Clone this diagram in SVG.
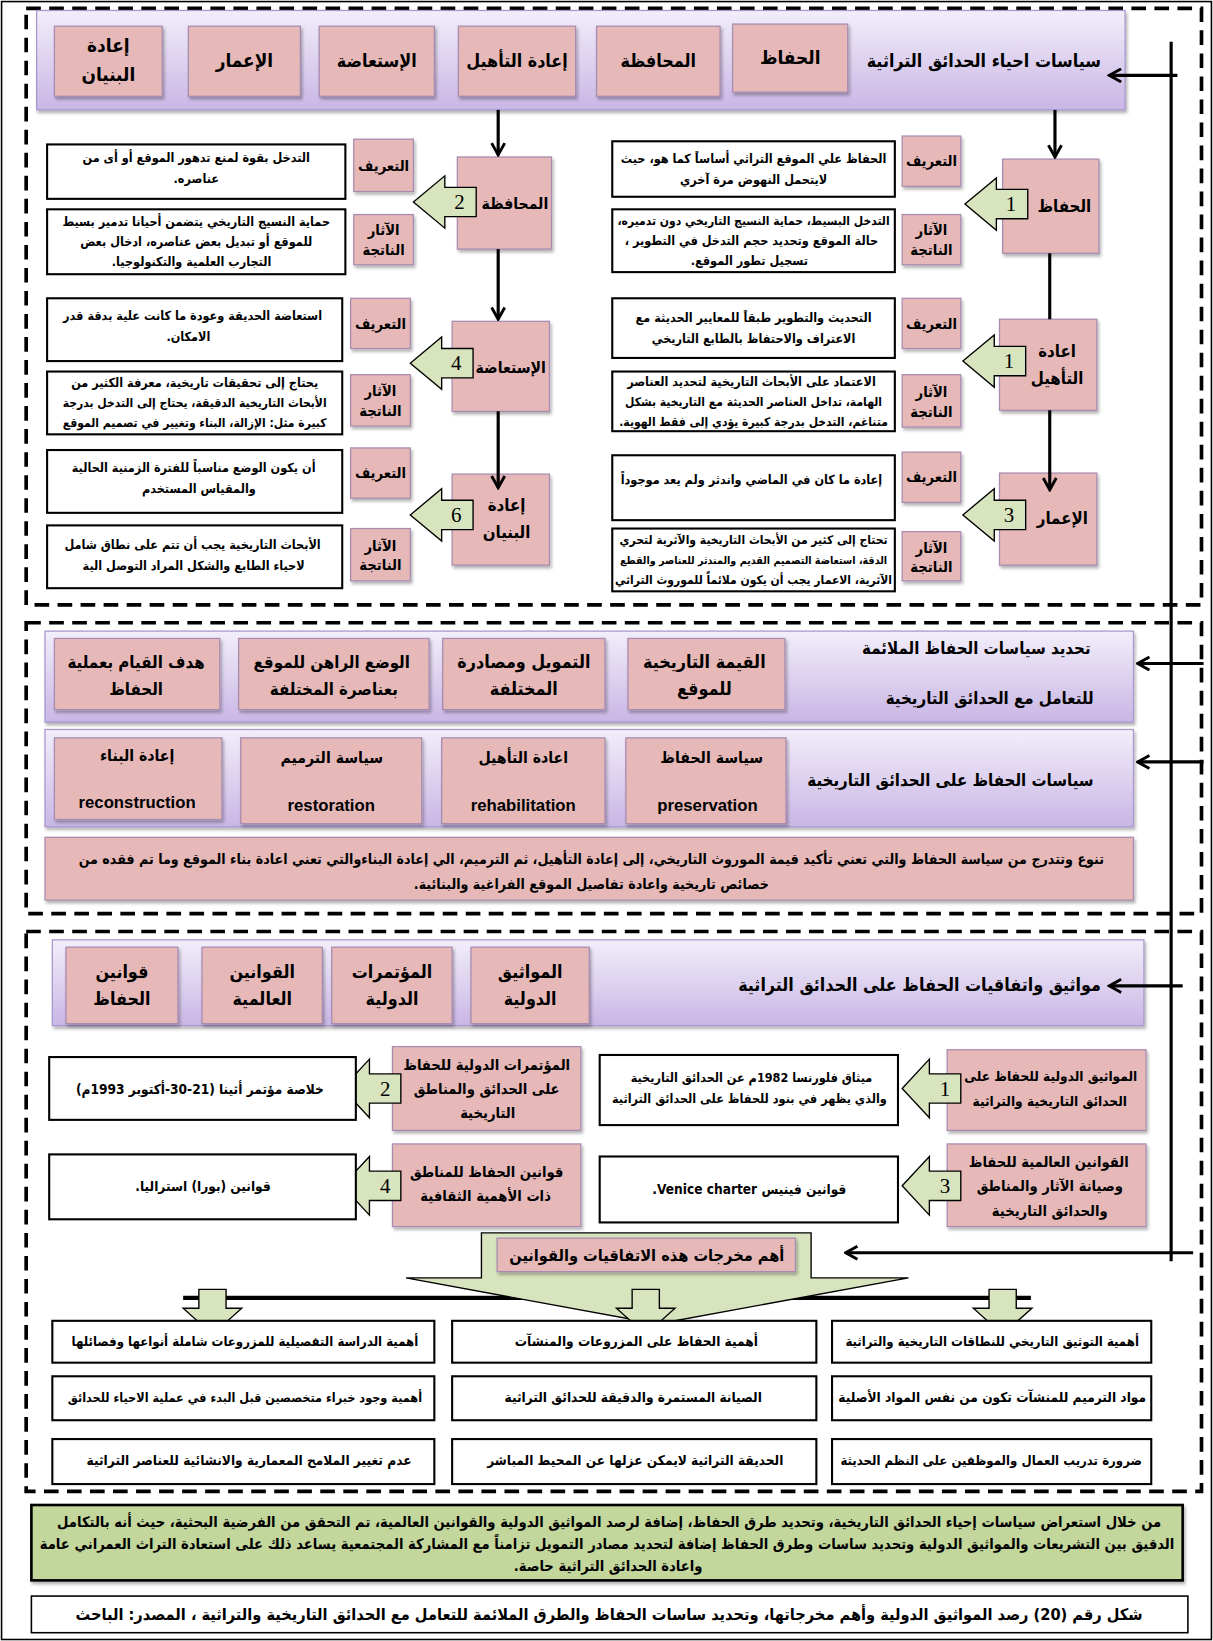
<svg xmlns="http://www.w3.org/2000/svg" width="1213" height="1641" viewBox="0 0 1213 1641">
<defs>
<linearGradient id="gp" x1="0" y1="0" x2="0" y2="1"><stop offset="0" stop-color="#f2eefa"/><stop offset="1" stop-color="#c9b6e5"/></linearGradient>
<filter id="sh" x="-5%" y="-5%" width="115%" height="125%"><feDropShadow dx="1.5" dy="2.5" stdDeviation="1.5" flood-color="#000" flood-opacity="0.3"/></filter>
<marker id="ah" viewBox="0 0 12 12" refX="10.5" refY="6" markerWidth="5" markerHeight="5" orient="auto" markerUnits="strokeWidth"><path d="M1.5,1 L10.5,6 L1.5,11" fill="none" stroke="#000" stroke-width="2.2"/></marker>
</defs>
<style>
.pur{fill:url(#gp);stroke:#a996cc;stroke-width:1.2;filter:url(#sh)}
.pk{fill:#e6b9b8;stroke:#a88bb0;stroke-width:1.2;filter:url(#sh)}
.wb{fill:#fff;stroke:#000;stroke-width:2}
.ga{fill:#d7e4bd;stroke:#000;stroke-width:1.3}
.dash{fill:none;stroke:#000;stroke-width:3.5;stroke-dasharray:14 8}
.ln{fill:none;stroke:#000;stroke-width:3}
text{font-family:"DejaVu Sans Condensed","DejaVu Sans","Noto Sans",sans-serif;font-weight:bold;fill:#000;direction:rtl;text-anchor:middle}
.s10{font-size:10.2px}
.s11{font-size:11.5px}
.s12{font-size:12px}
.s125{font-size:12.5px}
.s13{font-size:13px}
.s135{font-size:13.5px}
.s14{font-size:14px}
.s15{font-size:15px}
.s155{font-size:15.5px}
.s16{font-size:16px}
.s17{font-size:17px}
.s18{font-size:18px}
.num{font-family:"Liberation Serif",serif;font-weight:normal;font-size:20px;direction:ltr}
.en{font-family:"Liberation Sans",sans-serif;font-size:16px;direction:ltr}
.r{text-anchor:start}
</style>
<rect x="0" y="0" width="1213" height="1641" fill="#fff"/>
<g transform="scale(1.0466)">
<rect x="1.5" y="1.5" width="1156" height="1565" fill="none" stroke="#000" stroke-width="1.5"/>
<g id="sections">
<rect class="dash" x="25" y="8" width="1123" height="570"/>
<rect class="dash" x="25" y="595" width="1123" height="278"/>
<rect class="dash" x="25" y="890" width="1123" height="535"/>
</g>

<g id="header1">
<rect class="pur" x="35" y="10" width="1040" height="95"/>
<text class="s17 r" x="1052" y="64">سياسات احياء الحدائق التراثية</text>
<rect class="pk" x="52" y="25" width="103" height="67"/>
<text class="s18" x="103.5" y="50">إعادة</text><text class="s18" x="103.5" y="77">البنيان</text>
<rect class="pk" x="180" y="25" width="107" height="67"/>
<text class="s18" x="233.5" y="64">الإعمار</text>
<rect class="pk" x="305" y="25" width="110" height="67"/>
<text class="s17" x="360" y="64">الإستعاضة</text>
<rect class="pk" x="438" y="25" width="112" height="67"/>
<text class="s17" x="494" y="64">إعادة التأهيل</text>
<rect class="pk" x="570" y="25" width="118" height="67"/>
<text class="s17" x="629" y="64">المحافظة</text>
<rect class="pk" x="700" y="23" width="110" height="65"/>
<text class="s18" x="755" y="61">الحفاظ</text>
</g>

<!-- Section 1 right column -->
<g id="n-hifaz">
<rect class="pk" x="958" y="152" width="92" height="90"/>
<path class="ga" d="M922,195 L952,170 L952,181 L982,181 L982,209 L952,209 L952,220 Z"/>
<text class="num" x="966" y="202">1</text>
<text class="s16" x="1017" y="203">الحفاظ</text>
<rect class="pk" x="862" y="130" width="56" height="48"/>
<text class="s14" x="890" y="159">التعريف</text>
<rect class="pk" x="862" y="205" width="56" height="48"/>
<text class="s14" x="890" y="225">الآثار</text><text class="s14" x="890" y="244">الناتجة</text>
<rect class="wb" x="585" y="135" width="270" height="53"/>
<text class="s12" x="720" y="156">الحفاظ علي الموقع التراثي أساساً كما هو، حيث</text>
<text class="s12" x="720" y="176">لايتحمل النهوض مرة آخري</text>
<rect class="wb" x="585" y="200" width="270" height="60"/>
<text class="s11" x="720" y="215">التدخل البسيط، حماية النسيج التاريخي دون تدميره،</text>
<text class="s12" x="718" y="234">حالة الموقع وتحديد حجم التدخل في التطوير ،</text>
<text class="s12" x="716" y="253">تسجيل تطور الموقع.</text>
</g>

<g id="n-taahil">
<rect class="pk" x="955" y="305" width="93" height="87"/>
<path class="ga" d="M920,345 L950,320 L950,331 L980,331 L980,359 L950,359 L950,370 Z"/>
<text class="num" x="964" y="352">1</text>
<text class="s16" x="1010" y="341">اعادة</text><text class="s16" x="1010" y="367">التأهيل</text>
<rect class="pk" x="862" y="285" width="56" height="48"/>
<text class="s14" x="890" y="314">التعريف</text>
<rect class="pk" x="862" y="358" width="56" height="50"/>
<text class="s14" x="890" y="379">الآثار</text><text class="s14" x="890" y="398">الناتجة</text>
<rect class="wb" x="585" y="285" width="270" height="57"/>
<text class="s12" x="720" y="308">التحديث والتطوير طبقاً للمعايير الحديثة مع</text>
<text class="s12" x="720" y="328">الاعتراف والاحتفاظ بالطابع التاريخي</text>
<rect class="wb" x="585" y="355" width="270" height="57"/>
<text class="s12" x="718" y="369">الاعتماد على الأبحاث التاريخية لتحديد العناصر</text>
<text class="s11" x="720" y="388">الهامة، تداخل العناصر الحديثة مع التاريخية بشكل</text>
<text class="s11" x="720" y="407">متناغم، التدخل بدرجة كبيرة يؤدي إلى فقط الهوية.</text>
</g>

<g id="n-iamar">
<rect class="pk" x="955" y="452" width="93" height="88"/>
<path class="ga" d="M920,492 L950,467 L950,478 L980,478 L980,506 L950,506 L950,517 Z"/>
<text class="num" x="964" y="499">3</text>
<text class="s16" x="1015" y="501">الإعمار</text>
<rect class="pk" x="862" y="432" width="56" height="48"/>
<text class="s14" x="890" y="461">التعريف</text>
<rect class="pk" x="862" y="508" width="56" height="47"/>
<text class="s14" x="890" y="528">الآثار</text><text class="s14" x="890" y="547">الناتجة</text>
<rect class="wb" x="585" y="435" width="270" height="62"/>
<text class="s12" x="718" y="462">إعادة ما كان في الماضي واندثر ولم يعد موجوداً</text>
<rect class="wb" x="585" y="505" width="270" height="60"/>
<text class="s11" x="720" y="520">تحتاج إلى كثير من الأبحاث التاريخية والآثرية لتحري</text>
<text class="s10" x="720" y="539">الدقة، استعاضة التصميم القديم والمندثر للعناصر والقطع</text>
<text class="s11" x="720" y="558">الآثرية، الاعمار يجب أن يكون ملائماً للموروث التراثي</text>
</g>

<!-- Section 1 left column -->
<g id="n-muhafaza">
<rect class="pk" x="437" y="150" width="90" height="88"/>
<path class="ga" d="M395,193 L425,168 L425,179 L455,179 L455,207 L425,207 L425,218 Z"/>
<text class="num" x="439" y="200">2</text>
<text class="s15" x="492" y="200">المحافظة</text>
<rect class="pk" x="338" y="133" width="57" height="50"/>
<text class="s14" x="366.5" y="163">التعريف</text>
<rect class="pk" x="338" y="205" width="57" height="48"/>
<text class="s14" x="366.5" y="225">الآثار</text><text class="s14" x="366.5" y="244">الناتجة</text>
<rect class="wb" x="45" y="138" width="285" height="52"/>
<text class="s12" x="187.5" y="155">التدخل بقوة لمنع تدهور الموقع أو أى من</text>
<text class="s12" x="187.5" y="175">عناصره.</text>
<rect class="wb" x="45" y="200" width="285" height="62"/>
<text class="s12" x="187.5" y="216">حماية النسيج التاريخي يتضمن أحيانا تدمير بسيط</text>
<text class="s12" x="187.5" y="235">للموقع أو تبديل بعض عناصره، ادخال بعض</text>
<text class="s12" x="183" y="254">التجارب العلمية والتكنولوجيا.</text>
</g>

<g id="n-istiada">
<rect class="pk" x="432" y="307" width="93" height="86"/>
<path class="ga" d="M392,347 L422,322 L422,333 L452,333 L452,361 L422,361 L422,372 Z"/>
<text class="num" x="436" y="354">4</text>
<text class="s15" x="488" y="356">الإستعاضة</text>
<rect class="pk" x="335" y="285" width="57" height="48"/>
<text class="s14" x="363.5" y="314">التعريف</text>
<rect class="pk" x="335" y="358" width="57" height="49"/>
<text class="s14" x="363.5" y="378">الآثار</text><text class="s14" x="363.5" y="397">الناتجة</text>
<rect class="wb" x="45" y="285" width="282" height="60"/>
<text class="s12" x="184" y="306">استعاضة الحديقة وعودة ما كانت علية بدقة قدر</text>
<text class="s12" x="180" y="326">الامكان.</text>
<rect class="wb" x="45" y="355" width="282" height="60"/>
<text class="s12" x="186" y="370">يحتاج إلى تحقيقات تاريخية، معرفة الكثير من</text>
<text class="s11" x="186" y="389">الأبحاث التاريخية الدقيقة، يحتاج إلى التدخل بدرجة</text>
<text class="s11" x="186" y="408">كبيرة مثل: الإزالة، البناء وتغيير في تصميم الموقع</text>
</g>

<g id="n-bunyan">
<rect class="pk" x="432" y="453" width="93" height="87"/>
<path class="ga" d="M392,492 L422,467 L422,478 L452,478 L452,506 L422,506 L422,517 Z"/>
<text class="num" x="436" y="499">6</text>
<text class="s16" x="484" y="488">إعادة</text><text class="s16" x="484" y="514">البنيان</text>
<rect class="pk" x="335" y="428" width="57" height="48"/>
<text class="s14" x="363.5" y="457">التعريف</text>
<rect class="pk" x="335" y="505" width="57" height="50"/>
<text class="s14" x="363.5" y="526">الآثار</text><text class="s14" x="363.5" y="545">الناتجة</text>
<rect class="wb" x="45" y="430" width="282" height="60"/>
<text class="s12" x="185" y="451">أن يكون الوضع مناسباً للفترة الزمنية الحالية</text>
<text class="s12" x="190" y="471">والمقياس المستخدم</text>
<rect class="wb" x="45" y="502" width="282" height="60"/>
<text class="s12" x="184" y="525">الأبحاث التاريخية يجب أن تتم على نطاق شامل</text>
<text class="s12" x="185" y="545">لاحياء الطابع والشكل المراد التوصل الية</text>
</g>

<!-- Section 2 -->
<g id="header2">
<rect class="pur" x="43" y="603" width="1040" height="87"/>
<text class="s16 r" x="1042" y="625">تحديد سياسات الحفاظ الملائمة</text>
<text class="s16 r" x="1045" y="673">للتعامل مع الحدائق التاريخية</text>
<rect class="pk" x="600" y="610" width="150" height="68"/>
<text class="s17" x="673" y="638">القيمة التاريخية</text><text class="s17" x="673" y="664">للموقع</text>
<rect class="pk" x="423" y="610" width="155" height="68"/>
<text class="s17" x="500.5" y="638">التمويل ومصادرة</text><text class="s17" x="500.5" y="664">المختلفة</text>
<rect class="pk" x="228" y="610" width="182" height="68"/>
<text class="s16" x="317" y="638">الوضع الراهن للموقع</text><text class="s16" x="319" y="664">بعناصرة المختلفة</text>
<rect class="pk" x="52" y="610" width="158" height="68"/>
<text class="s16" x="130" y="638">هدف القيام بعملية</text><text class="s16" x="130" y="664">الحفاظ</text>
</g>

<g id="header3">
<rect class="pur" x="43" y="697" width="1040" height="93"/>
<text class="s16 r" x="1045" y="751">سياسات الحفاظ على الحدائق التاريخية</text>
<rect class="pk" x="598" y="705" width="153" height="82"/>
<text class="s15" x="680" y="729">سياسة الحفاظ</text><text class="en" x="676" y="775">preservation</text>
<rect class="pk" x="422" y="705" width="156" height="82"/>
<text class="s15" x="500" y="729">اعادة التأهيل</text><text class="en" x="500" y="775">rehabilitation</text>
<rect class="pk" x="230" y="705" width="173" height="82"/>
<text class="s15" x="317" y="729">سياسة الترميم</text><text class="en" x="316.5" y="775">restoration</text>
<rect class="pk" x="52" y="705" width="160" height="78"/>
<text class="s15" x="131" y="727">إعادة البناء</text><text class="en" x="131" y="772">reconstruction</text>
</g>

<g id="summary2">
<rect class="pk" x="43" y="800" width="1040" height="60"/>
<text class="s135" x="565" y="826">تنوع وتتدرج من سياسة الحفاظ والتي تعني تأكيد قيمة الموروث التاريخي، إلى إعادة التأهيل، ثم الترميم، الي إعادة البناءوالتي تعني اعادة بناء الموقع وما تم فقده من</text>
<text class="s135" x="565" y="849">خصائص تاريخية واعادة تفاصيل الموقع الفراغية والبنائية.</text>
</g>

<!-- Section 3 -->
<g id="header4">
<rect class="pur" x="50" y="898" width="1043" height="82"/>
<text class="s17 r" x="1052" y="947">مواثيق واتفاقيات الحفاظ على الحدائق التراثية</text>
<rect class="pk" x="450" y="905" width="113" height="73"/>
<text class="s17" x="506.5" y="934">المواثيق</text><text class="s17" x="506.5" y="960">الدولية</text>
<rect class="pk" x="317" y="905" width="115" height="73"/>
<text class="s17" x="374.5" y="934">المؤتمرات</text><text class="s17" x="374.5" y="960">الدولية</text>
<rect class="pk" x="193" y="905" width="115" height="73"/>
<text class="s17" x="250.5" y="934">القوانين</text><text class="s17" x="250.5" y="960">العالمية</text>
<rect class="pk" x="63" y="905" width="107" height="73"/>
<text class="s17" x="116.5" y="934">قوانين</text><text class="s17" x="116.5" y="960">الحفاظ</text>
</g>

<g id="n-mawathiq">
<rect class="pk" x="905" y="1003" width="190" height="77"/>
<text class="s13" x="1004" y="1033">المواثيق الدولية للحفاظ على</text>
<text class="s13" x="1003" y="1057">الحدائق التاريخية والتراثية</text>
<path class="ga" d="M862,1040 L888,1012 L888,1026 L918,1026 L918,1054 L888,1054 L888,1068 Z"/>
<text class="num" x="903" y="1047">1</text>
<rect class="wb" x="573" y="1008" width="285" height="67"/>
<text class="s12" x="718" y="1034">ميثاق فلورنسا 1982م عن الحدائق التاريخية</text>
<text class="s12" x="716" y="1054">والذي يظهر في بنود للحفاظ على الحدائق التراثية</text>
</g>

<g id="n-mutamarat">
<rect class="pk" x="375" y="1000" width="180" height="80"/>
<text class="s14" x="465" y="1022">المؤتمرات الدولية للحفاظ</text>
<text class="s14" x="465" y="1045">على الحدائق والمناطق</text>
<text class="s14" x="466" y="1068">التاريخية</text>
<path class="ga" d="M327,1040 L353,1012 L353,1026 L383,1026 L383,1054 L353,1054 L353,1068 Z"/>
<text class="num" x="368" y="1047">2</text>
<rect class="wb" x="47" y="1010" width="293" height="60"/>
<text class="s13" x="191" y="1045">خلاصة مؤتمر أثينا (21-30-أكتوبر 1993م)</text>
</g>

<g id="n-qawanin">
<rect class="pk" x="905" y="1093" width="190" height="79"/>
<text class="s14" x="1002" y="1115">القوانين العالمية للحفاظ</text>
<text class="s14" x="1003" y="1138">وصيانة الآثار والمناطق</text>
<text class="s14" x="1003" y="1162">والحدائق التاريخية</text>
<path class="ga" d="M862,1133 L888,1105 L888,1119 L918,1119 L918,1147 L888,1147 L888,1161 Z"/>
<text class="num" x="903" y="1140">3</text>
<rect class="wb" x="573" y="1105" width="285" height="63"/>
<text class="s13" x="716" y="1141">قوانين فينيس Venice charter.</text>
</g>

<g id="n-thaqafiya">
<rect class="pk" x="375" y="1093" width="180" height="79"/>
<text class="s14" x="465" y="1125">قوانين الحفاظ للمناطق</text>
<text class="s14" x="464" y="1148">ذات الأهمية الثقافية</text>
<path class="ga" d="M327,1133 L353,1105 L353,1119 L383,1119 L383,1147 L353,1147 L353,1161 Z"/>
<text class="num" x="368" y="1140">4</text>
<rect class="wb" x="47" y="1103" width="293" height="62"/>
<text class="s13" x="194" y="1138">قوانين (بورا) استراليا.</text>
</g>

<g id="connectors">
<line class="ln" x1="1008" y1="105" x2="1008" y2="150" marker-end="url(#ah)"/>
<line class="ln" x1="476" y1="105" x2="476" y2="148" marker-end="url(#ah)"/>
<line class="ln" x1="1003" y1="242" x2="1003" y2="305"/>
<line class="ln" x1="1003" y1="392" x2="1003" y2="468" marker-end="url(#ah)"/>
<line class="ln" x1="476" y1="238" x2="476" y2="305" marker-end="url(#ah)"/>
<line class="ln" x1="476" y1="393" x2="476" y2="466" marker-end="url(#ah)"/>
<line class="ln" x1="1119" y1="40" x2="1119" y2="1205"/>
<line class="ln" x1="1125" y1="72" x2="1060" y2="72" marker-end="url(#ah)"/>
<line class="ln" x1="1150" y1="634" x2="1087" y2="634" marker-end="url(#ah)"/>
<line class="ln" x1="1150" y1="728" x2="1087" y2="728" marker-end="url(#ah)"/>
<line class="ln" x1="1130" y1="942" x2="1060" y2="942" marker-end="url(#ah)"/>
<line class="ln" x1="1140" y1="1197" x2="808" y2="1197" marker-end="url(#ah)"/>
<line x1="175" y1="1240" x2="985" y2="1240" stroke="#000" stroke-width="4"/>
</g>

<g id="n-outputs">
<path class="ga" d="M460,1178 L775,1178 L775,1221 L868,1221 L628,1265 L388,1221 L460,1221 Z"/>
<rect class="pk" x="475" y="1183" width="285" height="32"/>
<text class="s155" x="618" y="1205">أهم مخرجات هذه الاتفاقيات والقوانين</text>
</g>

<g id="small-arrows">
<path class="ga" d="M190,1232 L216,1232 L216,1250 L231,1250 L203,1275 L175,1250 L190,1250 Z"/>
<path class="ga" d="M604,1232 L630,1232 L630,1250 L645,1250 L617,1275 L589,1250 L604,1250 Z"/>
<path class="ga" d="M945,1232 L971,1232 L971,1250 L986,1250 L958,1275 L930,1250 L945,1250 Z"/>
</g>

<g id="out-r1">
<rect class="wb" x="795" y="1262" width="305" height="40"/>
<text class="s125" x="948" y="1286">أهمية التوثيق التاريخي للنطاقات التاريخية والتراثية</text>
<rect class="wb" x="432" y="1262" width="348" height="40"/>
<text class="s13" x="608" y="1286">أهمية الحفاظ على المزروعات  والمنشآت</text>
<rect class="wb" x="50" y="1262" width="365" height="40"/>
<text class="s125" x="234" y="1286">أهمية الدراسة التفصيلية للمزروعات شاملة أنواعها وفصائلها</text>
</g>
<g id="out-r2">
<rect class="wb" x="795" y="1315" width="305" height="42"/>
<text class="s13" x="948" y="1340">مواد الترميم للمنشآت تكون من نفس المواد الأصلية</text>
<rect class="wb" x="432" y="1315" width="348" height="42"/>
<text class="s13" x="605" y="1340">الصيانة المستمرة والدقيقة للحدائق التراثية</text>
<rect class="wb" x="50" y="1315" width="365" height="42"/>
<text class="s12" x="234" y="1340">أهمية وجود خبراء متخصصين قبل البدء في عملية الاحياء للحدائق</text>
</g>
<g id="out-r3">
<rect class="wb" x="795" y="1375" width="305" height="43"/>
<text class="s125" x="947" y="1400">ضرورة تدريب العمال والموظفين على النظم الحديثة</text>
<rect class="wb" x="432" y="1375" width="348" height="43"/>
<text class="s13" x="607" y="1400">الحديقة التراثية لايمكن عزلها عن المحيط المباشر</text>
<rect class="wb" x="50" y="1375" width="365" height="43"/>
<text class="s13" x="238" y="1400">عدم تغيير الملامح المعمارية والانشائية للعناصر التراثية</text>
</g>

<g id="conclusion">
<rect x="30" y="1438" width="1100" height="72" fill="#c3d69b" stroke="#000" stroke-width="2.5" filter="url(#sh)"/>
<text class="s14" x="582" y="1459">من خلال استعراض سياسات إحياء الحدائق التاريخية، وتحديد طرق الحفاظ، إضافة لرصد المواثيق الدولية والقوانين العالمية، تم التحقق من الفرضية البحثية، حيث أنه بالتكامل</text>
<text class="s14" x="580" y="1480">الدقيق بين التشريعات والمواثيق الدولية وتحديد ساسات وطرق الحفاظ إضافة لتحديد مصادر التمويل تزامناً مع المشاركة المجتمعية يساعد ذلك على استعادة التراث العمراني عامة</text>
<text class="s14" x="581" y="1501">واعادة الحدائق التراثية حاصة.</text>
</g>

<g id="caption">
<rect x="30" y="1525" width="1105" height="35" fill="#fff" stroke="#000" stroke-width="1.5"/>
<text class="s155" x="582" y="1548">شكل رقم (20) رصد المواثيق الدولية وأهم مخرجاتها، وتحديد ساسات الحفاظ والطرق الملائمة للتعامل مع الحدائق التاريخية والتراثية ، المصدر: الباحث</text>
</g>
</g>
</svg>
